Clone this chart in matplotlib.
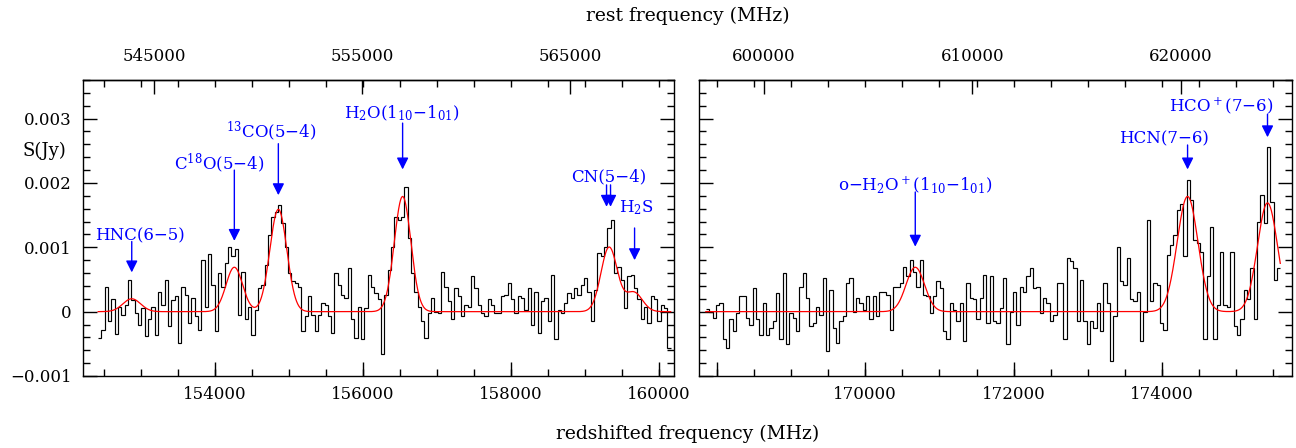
import numpy as np
import matplotlib
matplotlib.use("Agg")
import matplotlib.pyplot as plt
from matplotlib.ticker import FixedLocator, MultipleLocator, FuncFormatter, NullLocator

plt.rcParams.update({
    "font.family": "DejaVu Serif", "mathtext.fontset": "dejavuserif",
    "axes.linewidth": 1.0, "xtick.direction": "in", "ytick.direction": "in",
})

ONE_PLUS_Z = 3.558
CHAN = 45.0  # MHz, observed-frame channel width

# observed spectrum (mJy per channel), band 1
band1_start = 152420.0
band1_flux = [
    -0.41, -0.28, 0.39, -0.15, 0.20, -0.35, 0.08, -0.05, 0.10, 0.49,
    0.18, -0.02, -0.20, 0.06, -0.38, -0.12, 0.08, -0.36, 0.31, 0.10,
    0.49, -0.23, 0.18, 0.24, -0.48, 0.39, 0.26, -0.17, 0.21, -0.07,
    -0.28, 0.80, 0.08, 0.90, 0.42, -0.30, 0.60, 0.39, 0.75, 1.01,
    0.86, 0.98, -0.05, 0.62, -0.12, 0.08, -0.36, 0.03, 0.37, 0.42,
    0.73, 1.19, 1.47, 1.55, 1.65, 1.37, 1.01, 0.60, 0.47, 0.44,
    0.39, -0.30, -0.07, 0.24, -0.05, -0.30, -0.05, 0.13, 0.11, -0.07,
    -0.33, 0.60, 0.42, 0.26, 0.21, 0.68, -0.12, -0.41, 0.08, -0.43,
    0.05, 0.57, 0.39, 0.29, 0.19, -0.66, 0.26, 0.65, 1.00, 1.47,
    1.42, 1.47, 1.94, 1.14, 0.60, 0.31, 0.08, -0.15, -0.41, -0.02,
    0.21, 0.00, -0.02, 0.62, 0.39, 0.16, -0.12, 0.37, 0.24, -0.07,
    0.11, 0.08, 0.55, 0.37, 0.11, -0.02, -0.07, 0.19, 0.11, -0.02,
    -0.02, 0.24, 0.26, 0.44, 0.19, -0.02, 0.24, 0.21, 0.03, 0.37,
    -0.20, 0.31, -0.33, 0.16, 0.21, -0.15, 0.57, -0.43, 0.03, -0.02,
    0.13, 0.29, 0.21, 0.37, 0.26, 0.42, 0.52, 0.31, -0.15, 0.34,
    0.91, 0.86, 1.01, 1.30, 1.42, 0.60, 0.70, 0.49, 0.06, 0.55,
    0.57, 0.37, 0.19, -0.12, 0.08, -0.17, 0.24, 0.19, -0.15, 0.11,
    0.06, -0.56,
]

# observed spectrum (mJy per channel), band 2
band2_start = 167852.0
band2_flux = [
    0.04, 0.00, -0.10, 0.11, 0.14, -0.43, -0.56, -0.12, -0.30, -0.02,
    0.24, 0.25, -0.10, -0.20, 0.37, -0.12, -0.36, 0.13, -0.36, -0.25,
    -0.15, 0.29, -0.43, 0.60, -0.51, -0.02, -0.10, -0.30, 0.39, 0.60,
    0.21, -0.23, -0.17, 0.08, -0.05, 0.52, -0.61, 0.34, -0.25, -0.48,
    -0.15, -0.07, 0.44, 0.52, 0.00, 0.21, 0.13, 0.03, 0.24, -0.12,
    0.24, -0.07, 0.31, 0.31, 0.26, -0.28, 0.39, 0.39, 0.44, 0.70,
    0.55, 0.80, 0.62, 0.39, 0.80, 0.26, 0.24, -0.02, 0.24, 0.47,
    0.37, -0.30, -0.43, 0.13, 0.03, -0.15, 0.13, -0.46, 0.44, 0.21,
    0.19, -0.12, 0.21, 0.57, -0.17, 0.55, -0.15, -0.17, 0.06, 0.52,
    -0.51, 0.00, 0.31, -0.20, 0.39, 0.31, 0.55, 0.68, 0.37, 0.39,
    -0.02, 0.21, 0.13, -0.15, -0.05, 0.44, 0.44, -0.43, 0.83, 0.78,
    0.68, -0.15, 0.49, -0.15, -0.51, -0.15, -0.25, 0.14, -0.30, 0.44,
    0.14, -0.77, -0.07, 1.01, 0.47, 0.42, 0.83, 0.19, 0.16, 0.31,
    -0.46, 0.00, 1.42, 0.16, 0.44, 0.42, -0.18, -0.28, 0.88, 1.04,
    1.19, 1.58, 1.68, 0.86, 2.05, 1.73, 1.11, 1.06, 0.93, -0.43,
    0.55, 1.32, -0.43, 0.11, 0.93, 0.11, 0.08, 0.93, -0.23, -0.36,
    -0.12, 0.34, 0.19, 0.68, -0.12, 1.40, 1.81, 1.37, 2.56, 1.71,
    0.49, 0.68,
]

# gaussian line fits: centre (MHz, observed), peak (mJy), sigma (MHz)
band1_centres = [152874, 154261, 154856, 156536, 159328, 159662]
band1_peaks = [0.20, 0.69, 1.59, 1.79, 1.00, 0.30]
band1_sigmas = [120, 112, 115, 112, 110, 115]

band2_centres = [170674, 174343, 175420]
band2_peaks = [0.69, 1.79, 1.69]
band2_sigmas = [125, 140, 135]

# line identifications: label, arrow x(s), arrow top, arrow tip, text x, text y  (mJy)
band1_ids = [
    ("HNC(6\u22125)", [152874], 1.09, 0.61, 152986, 1.18),
    ("C$^{18}$O(5\u22124)", [154261], 2.20, 1.10, 154054, 2.31),
    ("$^{13}$CO(5\u22124)", [154856], 2.61, 1.81, 154757, 2.80),
    ("H$_2$O(1$_{10}$\u22121$_{01}$)", [156536], 2.93, 2.21, 156527, 3.09),
    ("CN(5\u22124)", [159293, 159347], 1.97, 1.63, 159320, 2.10),
    ("H$_2$S", [159672], 1.30, 0.80, 159689, 1.61),
]
band2_ids = [
    ("o\u2212H$_2$O$^+$(1$_{10}$\u22121$_{01}$)", [170674], 1.86, 1.01, 170678, 1.98),
    ("HCN(7\u22126)", [174343], 2.59, 2.21, 174030, 2.69),
    ("HCO$^+$(7\u22126)", [175420], 3.07, 2.71, 174790, 3.20),
]

band1_xlim = (152215, 160205)
band2_xlim = (167760, 175750)
band1_rest_ticks = [545000, 555000, 565000]
band2_rest_ticks = [600000, 610000, 620000]
band1_obs_ticks = [154000, 156000, 158000, 160000]
band2_obs_ticks = [168000, 170000, 172000, 174000]
band2_obs_labelled = [170000, 172000, 174000]

W, H = 1296, 448
fig = plt.figure(figsize=(W / 100, H / 100), dpi=100)
ax1 = fig.add_axes([83 / W, 72 / H, 591 / W, 296 / H])
ax2 = fig.add_axes([699 / W, 72 / H, 593 / W, 296 / H])

TICK = dict(labelsize=12, width=1.0, colors="k")


def draw_band(ax, start, flux, centres, peaks, sigmas, ids, xlim, obs_ticks,
              obs_labelled, rest_ticks, ylabels):
    flux = np.asarray(flux) * 1e-3
    edges = start + CHAN * np.arange(len(flux) + 1)
    ax.stairs(flux, edges, baseline=None, color="k", lw=0.85)

    f = np.linspace(edges[0], edges[-1], 2000)
    model = np.zeros_like(f)
    for c, p, s in zip(centres, peaks, sigmas):
        model += p * 1e-3 * np.exp(-0.5 * ((f - c) / s) ** 2)
    ax.plot(f, model, color="red", lw=0.9)

    for label, xs, ytop, ytip, tx, ty in ids:
        for x in xs:
            ax.annotate("", xy=(x, ytip * 1e-3), xytext=(x, ytop * 1e-3),
                        arrowprops=dict(arrowstyle="-|>,head_length=0.7,head_width=0.35",
                                        color="blue", lw=1.0, mutation_scale=10,
                                        shrinkA=0, shrinkB=0))
        ax.text(tx, ty * 1e-3, label, color="blue", fontsize=12,
                ha="center", va="center")

    ax.set_xlim(*xlim)
    ax.set_ylim(-0.001, 0.0036)

    # bottom: observed frequency; every 500 MHz tick is mirrored (short) on top
    ax.xaxis.remove_overlapping_locs = False
    ax.xaxis.set_major_locator(FixedLocator(obs_ticks))
    ax.xaxis.set_minor_locator(MultipleLocator(500))
    ax.xaxis.set_major_formatter(FuncFormatter(
        lambda v, p: f"{v:.0f}" if v in obs_labelled else ""))
    ax.tick_params(axis="x", which="major", top=False, length=10, pad=7, **TICK)
    ax.tick_params(axis="x", which="minor", top=True, length=5, width=1.0)

    ax.yaxis.set_major_locator(MultipleLocator(0.001))
    ax.yaxis.set_minor_locator(MultipleLocator(0.0002))
    ax.tick_params(axis="y", which="major", left=True, right=True, length=10,
                   pad=8, labelleft=ylabels, **TICK)
    ax.tick_params(axis="y", which="minor", left=True, right=True, length=5,
                   width=1.0)
    if ylabels:
        ax.yaxis.set_major_formatter(FuncFormatter(
            lambda v, p: "0" if abs(v) < 1e-9 else f"{v:.3f}".replace("-", "\u2212")))

    # top: rest frequency
    top = ax.secondary_xaxis("top", functions=(lambda v: v * ONE_PLUS_Z,
                                               lambda v: v / ONE_PLUS_Z))
    top.xaxis.set_major_locator(FixedLocator(rest_ticks))
    top.xaxis.set_minor_locator(NullLocator())
    top.xaxis.set_major_formatter(FuncFormatter(lambda v, p: f"{v:.0f}"))
    top.tick_params(which="major", direction="in", length=10, pad=11, **TICK)


draw_band(ax1, band1_start, band1_flux, band1_centres, band1_peaks, band1_sigmas,
          band1_ids, band1_xlim, band1_obs_ticks, band1_obs_ticks,
          band1_rest_ticks, True)
draw_band(ax2, band2_start, band2_flux, band2_centres, band2_peaks, band2_sigmas,
          band2_ids, band2_xlim, band2_obs_ticks, band2_obs_labelled,
          band2_rest_ticks, False)

fig.text(44 / W, 1 - 151 / H, "S(Jy)", fontsize=13, ha="center", va="center")
fig.text(688 / W, 1 - 16 / H, "rest frequency (MHz)", fontsize=13.5,
         ha="center", va="center")
fig.text(688 / W, 1 - 434 / H, "redshifted frequency (MHz)", fontsize=13.5,
         ha="center", va="center")

fig.savefig("out.png", dpi=100)
